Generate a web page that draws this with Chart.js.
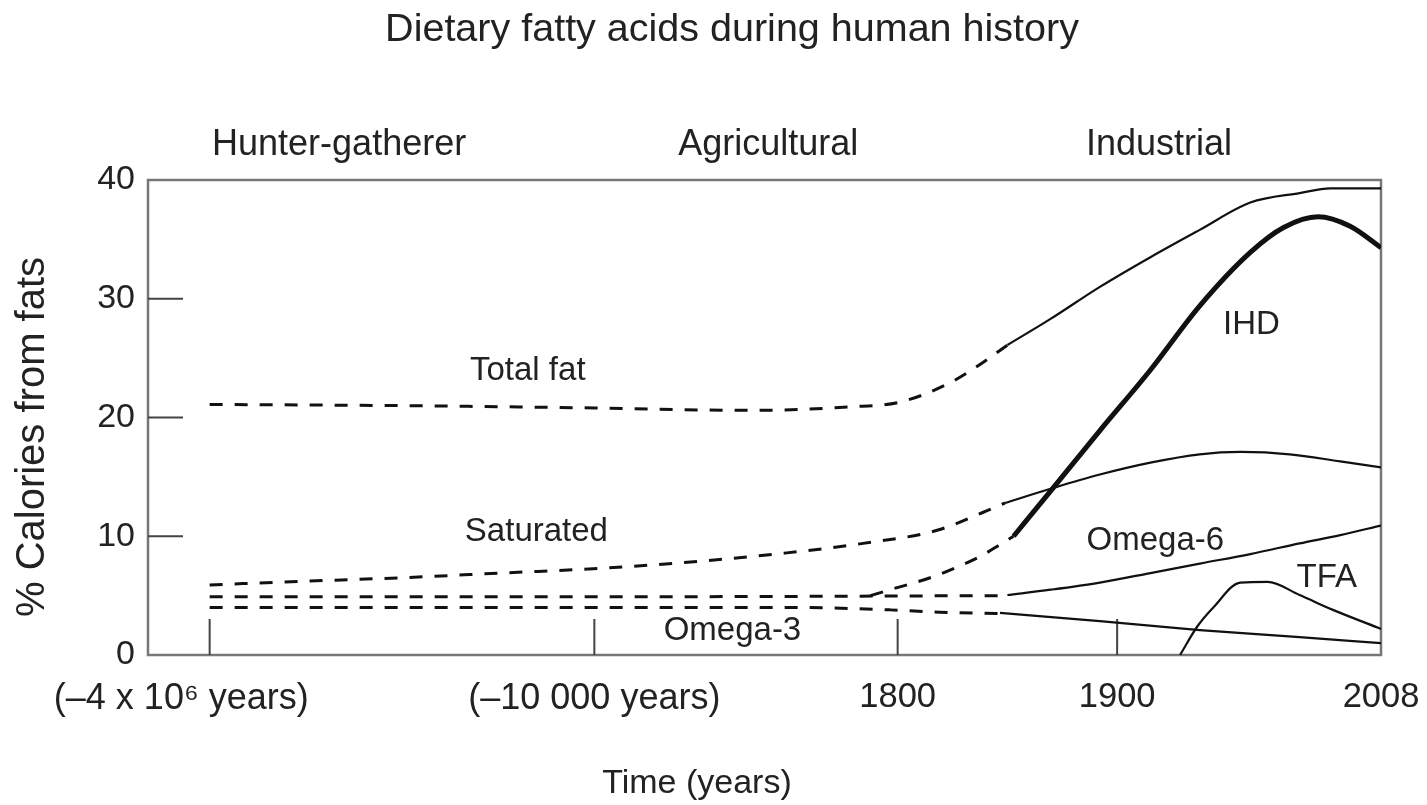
<!DOCTYPE html>
<html>
<head>
<meta charset="utf-8">
<script src="https://cdn.jsdelivr.net/npm/chart.js@4.4.0/dist/chart.umd.min.js"></script>
<style>
  html, body { margin: 0; padding: 0; background: #fff; }
</style>
</head>
<body>
<canvas id="c" width="1427" height="805"></canvas>
<script>
// x runs along the time axis: 0 = left edge of the plot, 100 = right edge (2008)
const tickLabels = ['(–4 x 10⁶ years)', '(–10 000 years)', '1800', '1900', '2008']
const tickLabelPos = [2.7, 36.2, 60.8, 78.6, 100]
const tickMarkPos = [5.0, 36.2, 60.8, 78.6]
const yTicks = [0, 10, 20, 30, 40]

const eras = ['Hunter-gatherer', 'Agricultural', 'Industrial']
const eraPos = [15.5, 50.3, 82]

const totalFatDashX = [5.0, 20.4, 36.2, 48.8, 56.9, 61.0, 65.0, 67.1, 69.7]
const totalFatDashY = [21.1, 21.0, 20.8, 20.6, 20.9, 21.3, 22.9, 24.2, 26.1]
const totalFatX = [69.7, 73.2, 77.2, 81.3, 85.3, 89.4, 93.4, 95.9, 100]
const totalFatY = [26.1, 28.3, 31.0, 33.5, 35.8, 38.1, 38.9, 39.3, 39.3]

const satDashX = [5.0, 12.3, 20.4, 28.6, 36.7, 44.8, 51.8, 58.0, 64.0, 67.7, 69.5]
const satDashY = [5.9, 6.2, 6.5, 6.9, 7.3, 7.9, 8.6, 9.4, 10.5, 12.0, 12.8]
const satX = [69.5, 73.2, 77.2, 81.3, 85.3, 88.6, 92.6, 96.7, 100]
const satY = [12.8, 14.0, 15.2, 16.2, 16.9, 17.1, 16.9, 16.3, 15.8]

const ihdDashX = [58.6, 60.2, 63.7, 65.6, 67.5, 69.1, 70.2]
const ihdDashY = [5.0, 5.5, 6.6, 7.4, 8.3, 9.3, 10.0]
const ihdX = [70.2, 73.2, 77.2, 81.3, 85.3, 89.4, 92.1, 94.9, 97.5, 100]
const ihdY = [10.0, 13.8, 18.9, 24.0, 29.4, 33.9, 36.0, 36.9, 36.1, 34.3]

const omega6DashX = [5.0, 36.2, 69.7]
const omega6DashY = [4.9, 4.9, 5.0]
const omega6X = [69.7, 73.2, 77.2, 81.3, 85.3, 89.4, 93.4, 96.7, 100]
const omega6Y = [5.05, 5.5, 6.1, 6.9, 7.7, 8.5, 9.4, 10.1, 10.9]

const omega3DashX = [5.0, 52.1, 60.2, 64.2, 69.1]
const omega3DashY = [4.0, 4.0, 3.8, 3.6, 3.5]
const omega3X = [69.1, 77.2, 85.3, 93.4, 100]
const omega3Y = [3.55, 2.85, 2.1, 1.5, 1.0]

const tfaX = [83.7, 85.1, 86.4, 88.6, 90.8, 93.4, 96.1, 100]
const tfaY = [0, 2.4, 4.0, 6.1, 6.15, 5.05, 3.8, 2.2]

const lineLabels = ['Total fat', 'Saturated', 'Omega-6', 'Omega-3', 'TFA', 'IHD']
const lineLabelX = [30.8, 31.5, 81.7, 47.4, 95.6, 89.5]
const lineLabelY = [23.9, 10.4, 9.6, 2.0, 6.5, 27.8]

const FONT = "'Liberation Sans', Arial, sans-serif"
const INK = '#111'
const TEXT = '#222'

function pts(xs, ys) {
    return xs.map((x, i) => ({ x: x, y: ys[i] }))
}

function line(label, xs, ys, dashed, width) {
    return {
        label: label,
        data: pts(xs, ys),
        borderColor: INK,
        borderWidth: width || (dashed ? 3 : 2.2),
        borderDash: dashed ? [13, 12] : [],
        pointRadius: 0,
        cubicInterpolationMode: 'monotone',
        fill: false
    }
}

const framePlugin = {
    id: 'frame',
    beforeDatasetsDraw(chart) {
        const { ctx, chartArea: a, scales: { x, y } } = chart
        ctx.save()
        ctx.strokeStyle = '#777'
        ctx.lineWidth = 2.5
        ctx.strokeRect(a.left, a.top, a.right - a.left, a.bottom - a.top)
        ctx.strokeStyle = '#444'
        ctx.lineWidth = 2
        ctx.beginPath()
        yTicks.slice(1, -1).forEach(v => {
            const py = y.getPixelForValue(v)
            ctx.moveTo(a.left, py)
            ctx.lineTo(a.left + 35, py)
        })
        tickMarkPos.forEach(v => {
            const px = x.getPixelForValue(v)
            ctx.moveTo(px, a.bottom)
            ctx.lineTo(px, a.bottom - 36)
        })
        ctx.stroke()
        ctx.restore()
    },
    afterDatasetsDraw(chart) {
        const { ctx, chartArea: a, scales: { x, y } } = chart
        ctx.save()
        ctx.fillStyle = TEXT
        ctx.textAlign = 'center'
        ctx.textBaseline = 'middle'

        ctx.font = '39.5px ' + FONT
        ctx.fillText('Dietary fatty acids during human history', 732, 30)

        ctx.font = '36px ' + FONT
        eras.forEach((t, i) => ctx.fillText(t, x.getPixelForValue(eraPos[i]), a.top - 35))

        ctx.font = '33px ' + FONT
        lineLabels.forEach((t, i) => {
            ctx.fillText(t, x.getPixelForValue(lineLabelX[i]), y.getPixelForValue(lineLabelY[i]))
        })

        ctx.font = '34px ' + FONT
        ctx.fillText('Time (years)', 697, 784)

        ctx.translate(33, 437)
        ctx.rotate(-Math.PI / 2)
        ctx.font = '40px ' + FONT
        ctx.fillText('% Calories from fats', 0, 0)
        ctx.restore()
    }
}

new Chart(document.getElementById('c'), {
    type: 'line',
    data: {
        datasets: [
            line('Total fat (early)', totalFatDashX, totalFatDashY, true),
            line('Total fat', totalFatX, totalFatY, false),
            line('Saturated (early)', satDashX, satDashY, true),
            line('Saturated', satX, satY, false),
            line('Omega-6 (early)', omega6DashX, omega6DashY, true),
            line('Omega-6', omega6X, omega6Y, false),
            line('Omega-3 (early)', omega3DashX, omega3DashY, true),
            line('Omega-3', omega3X, omega3Y, false),
            line('TFA', tfaX, tfaY, false),
            line('IHD (early)', ihdDashX, ihdDashY, true),
            line('IHD', ihdX, ihdY, false, 5)
        ]
    },
    options: {
        responsive: false,
        animation: false,
        layout: { padding: { left: 0, right: 46, top: 180, bottom: 0 } },
        plugins: {
            legend: { display: false },
            tooltip: { enabled: false },
            title: { display: false }
        },
        scales: {
            x: {
                type: 'linear',
                min: 0,
                max: 100,
                grid: { display: false, drawTicks: false },
                border: { display: false },
                afterBuildTicks: s => { s.ticks = tickLabelPos.map(v => ({ value: v })) },
                afterFit: s => { s.height = 150; s.paddingLeft = 0; s.paddingRight = 0 },
                ticks: {
                    autoSkip: false,
                    maxRotation: 0,
                    padding: 22,
                    color: TEXT,
                    font: c => ({ family: FONT, size: c.index < 2 ? 36 : 34.5 }),
                    callback: v => tickLabels[tickLabelPos.indexOf(v)]
                }
            },
            y: {
                min: 0,
                max: 40,
                grid: { display: false, drawTicks: false },
                border: { display: false },
                afterBuildTicks: s => { s.ticks = yTicks.map(v => ({ value: v })) },
                afterFit: s => { s.width = 148 },
                ticks: {
                    padding: 13,
                    color: TEXT,
                    font: { family: FONT, size: 34 }
                }
            }
        }
    },
    plugins: [framePlugin]
})
</script>
</body>
</html>
